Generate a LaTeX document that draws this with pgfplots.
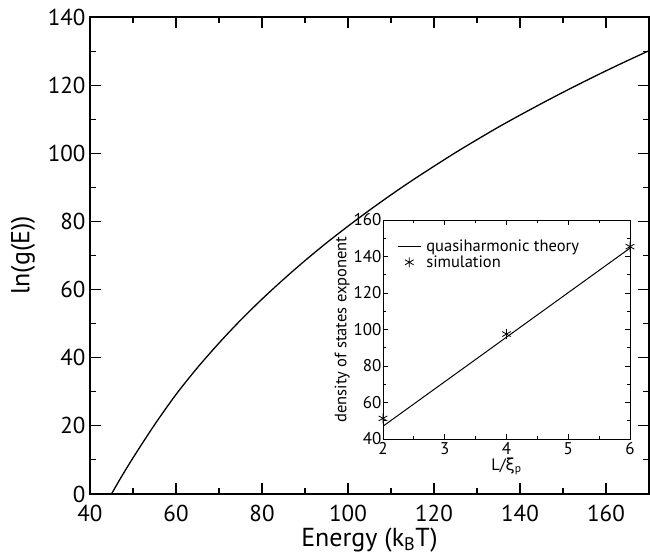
\documentclass[border=0pt]{standalone}
\usepackage{fontspec}
\setmainfont{PT Sans}
\newfontfamily\greekfont{DejaVu Sans}
\usepackage{pgfplots}
\pgfplotsset{compat=1.18}
\pgfplotstableread{
E y
45 0
47 4.4
50 10.6
55 20.3
60 29.2
65 37.1
70 44.3
75 51.0
80 57.2
85 63.0
90 68.5
95 73.7
100 78.6
105 83.3
110 87.8
115 92.1
120 96.2
125 100.2
130 104.0
135 107.7
140 111.2
145 114.6
150 117.9
155 121.1
160 124.2
165 127.2
170 130.1
}\maindata
\begin{document}
\begin{tikzpicture}
\path[use as bounding box] (0pt,0pt) rectangle (650pt,555pt);
\begin{axis}[at={(90pt,61pt)}, anchor=south west, scale only axis,
  width=559pt, height=477pt,
  xmin=40, xmax=170, ymin=0, ymax=140,
  xtick={40,60,...,160}, ytick={0,20,...,140},
  minor x tick num=1, minor y tick num=1,
  tick align=inside, major tick length=11pt, minor tick length=6pt,
  axis line style={line width=1.1pt},
  every tick/.style={line width=1.1pt, black},
  /pgf/number format/assume math mode=true,
  tick label style={font=\fontsize{23}{23}\selectfont},
  xticklabel style={yshift=-8pt},
  yticklabel style={xshift=-1pt},
  label style={font=\fontsize{26}{26}\selectfont},
  xlabel={Energy (k\textsubscript{B}T)}, ylabel={ln(g(E))},
  xlabel style={yshift=1pt}, ylabel style={yshift=6pt},
]
\addplot[black, line width=1.3pt, smooth, no marks] table[x=E, y=y] {\maindata};
\end{axis}
\begin{axis}[at={(383pt,116pt)}, anchor=south west, scale only axis,
  width=247pt, height=219pt,
  axis background/.style={fill=white},
  xmin=2, xmax=6, ymin=40, ymax=160,
  xtick={2,3,...,6}, ytick={40,60,...,160},
  minor x tick num=1, minor y tick num=1,
  tick align=inside, major tick length=5pt, minor tick length=3pt,
  axis line style={line width=0.9pt},
  every tick/.style={line width=0.9pt, black},
  /pgf/number format/assume math mode=true,
  tick label style={font=\fontsize{17}{17}\selectfont},
  yticklabel style={xshift=2pt},
  xticklabel style={yshift=0pt},
  label style={font=\fontsize{16.5}{16.5}\selectfont},
  xlabel={L/{\greekfont ξ}\textsubscript{p}}, ylabel={density of states exponent},
  xlabel style={yshift=4pt}, ylabel style={yshift=-3pt},
  legend style={at={(0.045,0.93)}, anchor=north west, draw=none, fill=none,
    font=\fontsize{16.5}{16.5}\selectfont, row sep=-1pt},
  legend cell align=left,
  legend image code/.code={\draw[mark repeat=2, mark phase=2, #1] plot coordinates {(0pt,0pt) (11.5pt,0pt) (23pt,0pt)}; \path (26pt,0pt);},
]
\addplot[black, line width=1pt, no marks] coordinates {(2,47.0) (6,144.6)};
\addlegendentry{quasiharmonic theory}
\addplot[only marks, mark=asterisk, mark size=5pt, black, line width=0.8pt] coordinates {(2,51.3) (4,97.5) (6,145.4)};
\addlegendentry{simulation}
\end{axis}
\end{tikzpicture}
\end{document}
